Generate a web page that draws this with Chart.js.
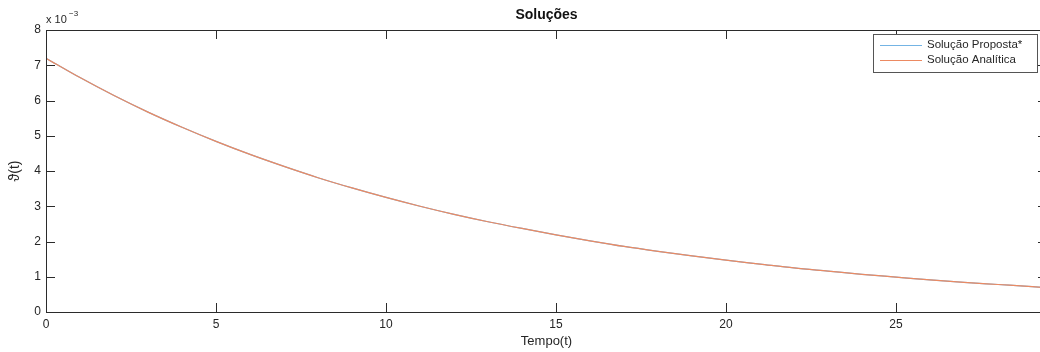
<!DOCTYPE html>
<html lang="pt">
<head>
<meta charset="UTF-8">
<title>Soluções</title>
<style>
  body { margin: 0; padding: 0; background: #fff; overflow: hidden; }
  #wrap { width: 1050px; height: 352px; }
</style>
</head>
<body>
<div id="wrap"><canvas id="chart" width="1050" height="352"></canvas></div>
<script src="https://cdn.jsdelivr.net/npm/chart.js"></script>
<script>
// tempo (t) and the values, in units of 10^-3
var tempo = [0, 1, 2, 3, 4, 5, 6, 7, 8, 9, 10, 11, 12, 13, 14, 15, 16, 17, 18, 19,
             20, 21, 22, 23, 24, 25, 26, 27, 28, 29, 29.44];
var solucaoProposta = [7.20, 6.65, 6.14, 5.67, 5.24, 4.84, 4.47, 4.13, 3.81, 3.52,
                       3.25, 3.00, 2.77, 2.56, 2.37, 2.19, 2.02, 1.86, 1.72, 1.59,
                       1.47, 1.36, 1.25, 1.16, 1.07, 0.99, 0.91, 0.84, 0.78, 0.72, 0.69];
var solucaoAnalitica = [7.20, 6.65, 6.14, 5.67, 5.24, 4.84, 4.47, 4.13, 3.81, 3.52,
                        3.25, 3.00, 2.77, 2.56, 2.37, 2.19, 2.02, 1.86, 1.72, 1.59,
                        1.47, 1.36, 1.25, 1.16, 1.07, 0.99, 0.91, 0.84, 0.78, 0.72, 0.69];
var xTicks = [0, 5, 10, 15, 20, 25];
var yTicks = [0, 1, 2, 3, 4, 5, 6, 7, 8];
var seriesNames = ['Solução Proposta*', 'Solução Analítica'];
var seriesColors = ['#74b4e4', '#ec8a62'];

var FONT = '"Liberation Sans", Arial, sans-serif';
var AXIS = '#2b2b2b';

function toPoints(xs, ys) {
    return xs.map(function (x, i) { return { x: x, y: ys[i] }; });
}

// box, inward ticks, title, exponent and legend (matlab look)
var matlabFrame = {
    id: 'matlabFrame',
    afterDraw: function (chart) {
        var ctx = chart.ctx;
        var a = chart.chartArea;
        var xs = chart.scales.x, ys = chart.scales.y;
        var tl = 9;
        ctx.save();
        ctx.strokeStyle = AXIS;
        ctx.lineWidth = 1;
        ctx.strokeRect(a.left + 0.5, a.top + 0.5, a.right - a.left, a.bottom - a.top);
        ctx.beginPath();
        xTicks.forEach(function (v) {
            var px = Math.round(xs.getPixelForValue(v)) + 0.5;
            ctx.moveTo(px, a.bottom); ctx.lineTo(px, a.bottom - tl);
            ctx.moveTo(px, a.top); ctx.lineTo(px, a.top + tl);
        });
        yTicks.forEach(function (v) {
            var py = Math.round(ys.getPixelForValue(v)) + 0.5;
            ctx.moveTo(a.left, py); ctx.lineTo(a.left + tl, py);
            ctx.moveTo(a.right, py); ctx.lineTo(a.right - tl, py);
        });
        ctx.stroke();

        // title, centred over the axes box
        ctx.fillStyle = '#111';
        ctx.textAlign = 'center';
        ctx.textBaseline = 'middle';
        ctx.font = 'bold 14px ' + FONT;
        ctx.fillText('Soluções', (a.left + a.right) / 2, 15);

        // exponent label
        ctx.fillStyle = '#262626';
        ctx.textBaseline = 'alphabetic';
        ctx.textAlign = 'left';
        ctx.font = '11px ' + FONT;
        ctx.fillText('x 10', a.left, 23);
        ctx.font = '8px ' + FONT;
        ctx.fillText('−3', a.left + 23, 16);

        // legend
        var bx = 873, by = 34, bw = 164, bh = 38;
        ctx.fillStyle = '#fff';
        ctx.fillRect(bx, by, bw, bh);
        ctx.strokeStyle = '#555';
        ctx.strokeRect(bx + 0.5, by + 0.5, bw, bh);
        ctx.font = '11.5px ' + FONT;
        ctx.textBaseline = 'middle';
        seriesNames.forEach(function (name, i) {
            var ly = by + 11 + i * 15;
            ctx.strokeStyle = seriesColors[i];
            ctx.lineWidth = 1.2;
            ctx.beginPath();
            ctx.moveTo(bx + 7, ly + 0.5); ctx.lineTo(bx + 49, ly + 0.5);
            ctx.stroke();
            ctx.fillStyle = '#262626';
            ctx.fillText(name, bx + 54, ly);
        });
        ctx.restore();
    }
};

new Chart(document.getElementById('chart'), {
    type: 'line',
    data: {
        datasets: [{
            label: seriesNames[0],
            data: toPoints(tempo, solucaoProposta),
            borderColor: seriesColors[0],
            borderWidth: 1.2,
            pointRadius: 0,
            cubicInterpolationMode: 'monotone',
            order: 1
        }, {
            label: seriesNames[1],
            data: toPoints(tempo, solucaoAnalitica),
            borderColor: seriesColors[1],
            borderWidth: 1.2,
            pointRadius: 0,
            cubicInterpolationMode: 'monotone',
            order: 0
        }]
    },
    options: {
        responsive: false,
        animation: false,
        layout: { padding: { left: 0, right: 3, top: 30, bottom: 0 } },
        plugins: {
            legend: { display: false },
            tooltip: { enabled: false },
            title: { display: false }
        },
        scales: {
            x: {
                type: 'linear',
                min: 0,
                max: 29.44,
                border: { display: false },
                grid: { display: false, drawTicks: false },
                afterBuildTicks: function (scale) {
                    scale.ticks = xTicks.map(function (v) { return { value: v }; });
                },
                afterFit: function (scale) { scale.height = 40; },
                ticks: {
                    color: '#262626',
                    padding: 5,
                    maxRotation: 0,
                    font: { family: FONT, size: 12 }
                },
                title: {
                    display: true,
                    text: 'Tempo(t)',
                    color: '#262626',
                    font: { family: FONT, size: 13 },
                    padding: { top: 0, bottom: 3 }
                }
            },
            y: {
                min: 0,
                max: 8,
                border: { display: false },
                grid: { display: false, drawTicks: false },
                afterBuildTicks: function (scale) {
                    scale.ticks = yTicks.map(function (v) { return { value: v }; });
                },
                afterFit: function (scale) { scale.width = 46; },
                ticks: {
                    color: '#262626',
                    padding: 5,
                    font: { family: FONT, size: 12 }
                },
                title: {
                    display: true,
                    text: 'ϑ(t)',
                    color: '#262626',
                    font: { family: FONT, size: 14 },
                    padding: { top: 7, bottom: 0 }
                }
            }
        }
    },
    plugins: [matlabFrame]
});
</script>
</body>
</html>
